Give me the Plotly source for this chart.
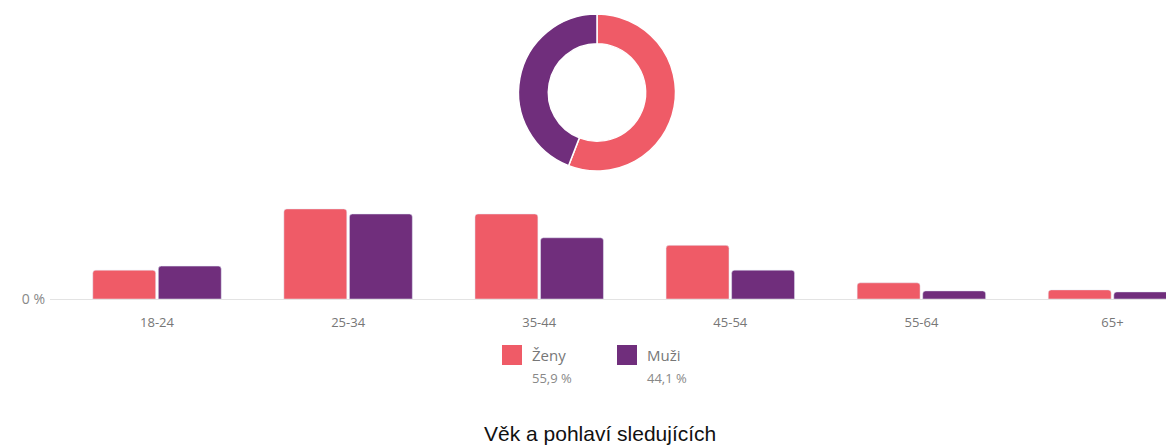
import plotly.graph_objects as go

categories = ["18-24", "25-34", "35-44", "45-54", "55-64", "65+"]
zeny = [5.7, 17.8, 16.8, 10.6, 3.2, 1.8]
muzi = [6.5, 16.8, 12.1, 5.7, 1.6, 1.4]
series_names = ["Ženy", "Muži"]
donut_values = [55.9, 44.1]
title_text = "Věk a pohlaví sledujících"

PINK = "#EF5B67"
PURPLE = "#702E7C"
W, H = 1166, 446
HE = 437  # effective drawing height observed in the viewer


def fy(py):
    return 1 - py / HE


fig = go.Figure()
fig.add_trace(go.Bar(x=categories, y=zeny, name=series_names[0], marker_color=PINK,
                     showlegend=False, xaxis="x", yaxis="y"))
fig.add_trace(go.Bar(x=categories, y=muzi, name=series_names[1], marker_color=PURPLE,
                     showlegend=False, xaxis="x", yaxis="y"))

fig.add_trace(go.Pie(values=donut_values, labels=series_names, hole=0.62, sort=False,
                     direction="clockwise", rotation=0,
                     marker=dict(colors=[PINK, PURPLE], line=dict(color="white", width=1.5)),
                     textinfo="none", hoverinfo="label+percent", showlegend=False,
                     domain=dict(x=[518 / W, 676 / W], y=[fy(171), fy(14)])))

base_y = 299
fig.update_layout(
    width=W, height=H, autosize=False,
    margin=dict(l=0, r=0, t=0, b=0),
    paper_bgcolor="white", plot_bgcolor="white",
    barmode="group", bargap=0.314, bargroupgap=0.04, barcornerradius=3,
    font=dict(family="Open Sans", color="#666"),
    xaxis=dict(domain=[50 / W, 1], range=[-0.56, 5.28], showgrid=False,
               showline=True, linecolor="#e3e3e3", linewidth=1,
               ticks="outside", ticklen=11, tickcolor="rgba(0,0,0,0)",
               tickfont=dict(size=13, color="#777"), fixedrange=True),
    yaxis=dict(domain=[fy(base_y), fy(base_y - 101.2)], range=[0, 20],
               showgrid=False, zeroline=False, tickvals=[0], ticktext=["0 %"],
               tickfont=dict(size=14, color="#888"), ticks="", ticklabelstandoff=4,
               fixedrange=True),
)

# custom legend
legend_items = [(series_names[0], sum(zeny), PINK, 502), (series_names[1], sum(muzi), PURPLE, 617)]
for name, total, color, px in legend_items:
    fig.add_shape(type="rect", xref="paper", yref="paper",
                  x0=px / W, x1=(px + 20) / W, y0=fy(365), y1=fy(345),
                  fillcolor=color, line=dict(width=0), layer="above")
    fig.add_annotation(xref="paper", yref="paper", x=(px + 28) / W, y=fy(355),
                       text=name, showarrow=False, xanchor="left", yanchor="middle",
                       font=dict(size=15, color="#777", family="Open Sans"))
    fig.add_annotation(xref="paper", yref="paper", x=(px + 28) / W, y=fy(378),
                       text=f"{total:.1f} %".replace(".", ","), showarrow=False,
                       xanchor="left", yanchor="middle",
                       font=dict(size=13, color="#888", family="Open Sans"))

fig.add_annotation(xref="paper", yref="paper", x=600 / W, y=fy(433),
                   text=title_text, showarrow=False, xanchor="center", yanchor="middle",
                   font=dict(size=21, color="#111", family="Liberation Sans"))

fig.write_html("out.html",
               config={"responsive": False, "displayModeBar": False},
               post_script="document.body.style.margin='0';document.body.style.overflow='hidden';")
